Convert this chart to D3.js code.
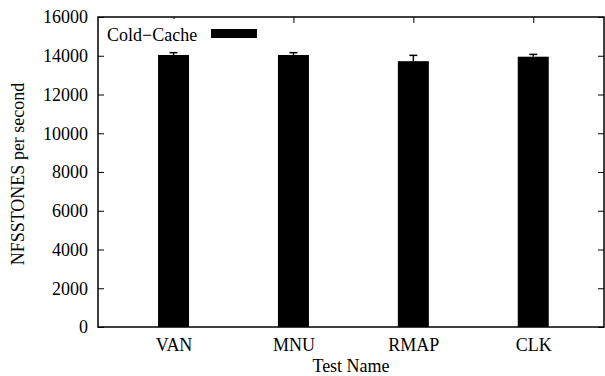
<!DOCTYPE html>
<html><head><meta charset="utf-8">
<script src="https://cdn.jsdelivr.net/npm/d3@7"></script>
<style>body{margin:0;background:#fff}</style>
</head><body>
<script>
const categories = ["VAN","MNU","RMAP","CLK"];
const values = [14040, 14040, 13720, 13950];
const errors = [120, 120, 300, 120];
const yTicks = [0,2000,4000,6000,8000,10000,12000,14000,16000];
const seriesName = "Cold\u2212Cache";

const FONT = "'Liberation Serif'";
const W=605,H=376;
const m={l:98,r:604,t:17,b:327};
const svg=d3.select("body").append("svg").attr("width",W).attr("height",H);
const x=d3.scaleLinear().domain([-0.63,3.59]).range([m.l,m.r]);
const y=d3.scaleLinear().domain([0,16000]).range([m.b,m.t]);
const bw=31, fs=18;

svg.selectAll("rect.bar").data(values).enter().append("rect")
 .attr("x",(d,i)=>x(i)-bw/2).attr("y",d=>y(d)).attr("width",bw).attr("height",d=>y(0)-y(d)).attr("fill","#000");
values.forEach((v,i)=>{
  const cx=x(i);
  svg.append("line").attr("x1",cx).attr("x2",cx).attr("y1",y(v)).attr("y2",y(v+errors[i])).attr("stroke","#000").attr("stroke-width",1.5);
  svg.append("line").attr("x1",cx-4).attr("x2",cx+4).attr("y1",y(v+errors[i])).attr("y2",y(v+errors[i])).attr("stroke","#000").attr("stroke-width",1.5);
});

svg.append("rect").attr("x",m.l).attr("y",m.t).attr("width",m.r-m.l).attr("height",m.b-m.t).attr("fill","none").attr("stroke","#000").attr("stroke-width",1.5);

const ya=d3.axisLeft(y).tickValues(yTicks).tickSize(-6).tickPadding(10).tickFormat(d3.format("d"));
const gy=svg.append("g").attr("transform",`translate(${m.l},0)`).call(ya);
gy.attr("font-family",null).attr("font-size",null);
gy.select(".domain").remove();
gy.selectAll("text").style("font-family",FONT).style("font-size",fs+"px").attr("fill","#000");
gy.selectAll("line").attr("stroke","#000");
const yr=d3.axisRight(y).tickValues(yTicks).tickSize(-6).tickFormat("");
const gyr=svg.append("g").attr("transform",`translate(${m.r},0)`).call(yr);
gyr.select(".domain").remove();

const xa=d3.axisBottom(x).tickValues(d3.range(categories.length)).tickSize(0).tickPadding(11).tickFormat(i=>categories[i]);
const gx=svg.append("g").attr("transform",`translate(0,${m.b})`).call(xa);
gx.attr("font-family",null).attr("font-size",null);
gx.select(".domain").remove();
gx.selectAll("text").style("font-family",FONT).style("font-size",fs+"px").attr("fill","#000");
const xt=d3.axisTop(x).tickValues(d3.range(categories.length)).tickSize(-6).tickFormat("");
const gxt=svg.append("g").attr("transform",`translate(0,${m.t})`).call(xt);
gxt.select(".domain").remove();

const lg=svg.append("g");
lg.append("rect").attr("x",m.l+2).attr("y",m.t+2).attr("width",166).attr("height",30).attr("fill","#fff");
lg.append("text").attr("x",107).attr("y",41).style("font-family",FONT).style("font-size",fs+"px").text(seriesName);
lg.append("rect").attr("x",211).attr("y",29).attr("width",46).attr("height",9).attr("fill","#000");

svg.append("text").attr("x",(m.l+m.r)/2).attr("y",372).attr("text-anchor","middle").style("font-family",FONT).style("font-size",fs+"px").text("Test Name");
svg.append("text").attr("transform",`translate(24,174) rotate(-90)`).attr("text-anchor","middle").style("font-family",FONT).style("font-size",fs+"px").text("NFSSTONES per second");
</script>
</body></html>
